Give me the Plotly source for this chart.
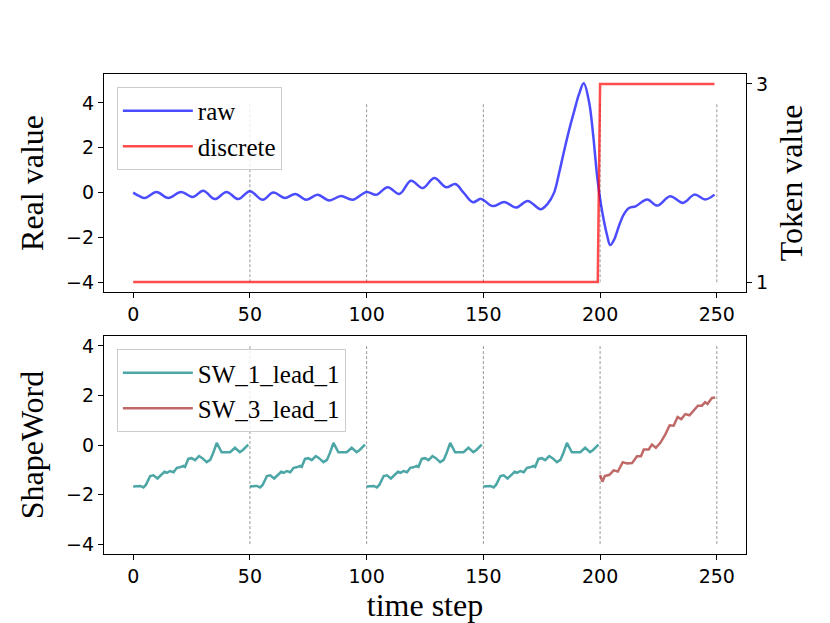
import plotly.graph_objects as go

# raw signal (peaks / troughs)
raw_x = [0, 2.5, 5, 10, 15, 20.5, 25.5, 30, 35, 40, 45, 50, 55.5, 60, 65, 69.5,
         74, 79, 84, 89, 94, 100, 104, 109, 114, 119, 124, 129, 134, 138, 141.5,
         145.5, 149, 154, 159, 164, 169, 174.5, 177.5, 180.3, 182.5, 184.6, 187,
         189, 191, 193, 195.3, 197, 198.9, 201, 203, 204.3, 206, 208, 210, 212.4,
         215.2, 220.2, 224.5, 230, 235.5, 240.5, 245, 249]
raw_y = [0.0, -0.15, -0.24, 0.03, -0.24, 0.03, -0.2, 0.08, -0.29, 0.03, -0.29,
         0.06, -0.32, 0.0, -0.24, -0.06, -0.32, -0.1, -0.35, -0.15, -0.32, 0.03,
         -0.1, 0.24, -0.06, 0.53, 0.2, 0.65, 0.24, 0.38, 0.0, -0.43, -0.28, -0.6,
         -0.42, -0.67, -0.37, -0.74, -0.5, 0.0, 0.9, 1.87, 2.9, 3.67, 4.4, 4.88,
         4.03, 2.6, 0.58, -0.91, -1.9, -2.34, -2.1, -1.51, -1.0, -0.69, -0.61,
         -0.31, -0.58, -0.16, -0.46, -0.09, -0.31, -0.09]

# discrete token
disc_x = [0, 199, 200, 249]
disc_y = [1, 1, 3, 3]

# ShapeWord SW_1_lead_1 (one window, repeated at each start)
sw1_dx = [0, 2, 3, 4.4, 5.5, 7.3, 8.7, 10.4, 12.3, 13.4, 14.5, 15.8, 17.3, 18.7,
          20, 21.5, 22.2, 23.6, 25, 26.5, 28.2, 29.5, 31.5, 33, 34.3, 35.8, 37.9,
          40, 41.5, 43.6, 45.7, 47, 49.3]
sw1_y = [-1.67, -1.67, -1.65, -1.71, -1.6, -1.25, -1.22, -1.35, -1.16, -1.08,
         -1.12, -1.05, -1.1, -0.92, -0.9, -0.84, -0.88, -0.56, -0.53, -0.61,
         -0.45, -0.52, -0.69, -0.6, -0.31, 0.09, -0.29, -0.28, -0.29, -0.11,
         -0.29, -0.2, 0.02]
sw1_starts = [0, 50, 100, 150]

# ShapeWord SW_3_lead_1
sw3_x = [200, 201, 202, 204, 205.8, 207.6, 209.7, 211.5, 213.7, 215.8, 217.5,
         218.7, 220.8, 222.2, 223.9, 225.8, 227.9, 229.8, 231.5, 233.2, 234.8,
         236.5, 238.3, 240, 241.9, 243.6, 245, 246, 247.9, 249.3]
sw3_y = [-1.21, -1.48, -1.25, -1.2, -1.02, -1.07, -0.69, -0.74, -0.73, -0.45,
         -0.45, -0.18, -0.18, 0.02, -0.11, 0.09, 0.42, 0.8, 0.78, 1.13, 1.05,
         1.25, 1.2, 1.39, 1.59, 1.59, 1.73, 1.66, 1.9, 1.92]

vline_x = [50, 100, 150, 200, 250]
vline_lo, vline_hi = -4, 4

SERIF = "Liberation Serif"
SANS = "DejaVu Sans"

fig = go.Figure()

# dashed window separators
for xa, ya in [("x", "y"), ("x2", "y3")]:
    vx, vy = [], []
    for v in vline_x:
        vx += [v, v, None]
        vy += [vline_lo, vline_hi, None]
    fig.add_trace(go.Scatter(x=vx, y=vy, mode="lines", xaxis=xa, yaxis=ya,
                             showlegend=False, hoverinfo="skip",
                             line=dict(color="#999999", width=1, dash="3px,2px")))

fig.add_trace(go.Scatter(x=raw_x, y=raw_y, mode="lines", name="raw",
                         line=dict(color="rgba(0,0,255,0.7)", width=2.5,
                                   shape="spline", smoothing=1.0),
                         xaxis="x", yaxis="y", legend="legend"))
fig.add_trace(go.Scatter(x=disc_x, y=disc_y, mode="lines", name="discrete",
                         line=dict(color="rgba(255,0,0,0.7)", width=2.5),
                         xaxis="x", yaxis="y2", legend="legend"))

sx, sy = [], []
for s in sw1_starts:
    sx += [s + d for d in sw1_dx] + [None]
    sy += sw1_y + [None]
fig.add_trace(go.Scatter(x=sx, y=sy, mode="lines", name="SW_1_lead_1",
                         line=dict(color="rgba(0,128,128,0.7)", width=2.5),
                         xaxis="x2", yaxis="y3", legend="legend2"))
fig.add_trace(go.Scatter(x=sw3_x, y=sw3_y, mode="lines", name="SW_3_lead_1",
                         line=dict(color="rgba(165,42,42,0.7)", width=2.5),
                         xaxis="x2", yaxis="y3", legend="legend2"))

ax = dict(showline=True, linecolor="black", linewidth=1.2, mirror=True,
          ticks="outside", ticklen=5, tickcolor="black", showgrid=False,
          zeroline=False, automargin=False,
          tickfont=dict(family=SANS, size=19, color="black"))
xr = [-12.5, 262.5]
xt = [0, 50, 100, 150, 200, 250]
tfont = dict(family=SERIF, size=32, color="black")
minus = ["\u22124", "\u22122", "0", "2", "4"]
leg = dict(x=0.02, xanchor="left", yanchor="top", itemwidth=70, traceorder="normal",
           bgcolor="rgba(255,255,255,0.8)", bordercolor="#cccccc", borderwidth=1,
           font=dict(family=SERIF, size=25, color="black"))

# page body has an 8px margin, so the figure is drawn 8px smaller
fig.update_layout(
    width=822, height=615,
    margin=dict(l=96, r=84, t=66, b=69),
    plot_bgcolor="white", paper_bgcolor="white",
    xaxis=dict(ax, domain=[0, 1], range=xr, tickvals=xt, anchor="y"),
    yaxis=dict(ax, domain=[0.546, 1], range=[-4.43, 5.29], tickvals=[-4, -2, 0, 2, 4],
               ticktext=minus, anchor="x",
               title=dict(text="Real value", font=tfont, standoff=12)),
    yaxis2=dict(ax, overlaying="y", side="right", range=[0.9, 3.1], tickvals=[1, 3],
                anchor="x", mirror=False,
                title=dict(text="Token value", font=tfont, standoff=12)),
    xaxis2=dict(ax, domain=[0, 1], range=xr, tickvals=xt, anchor="y3",
                title=dict(text="time step", font=tfont, standoff=2)),
    yaxis3=dict(ax, domain=[0, 0.454], range=[-4.4, 4.4], tickvals=[-4, -2, 0, 2, 4],
                ticktext=minus, anchor="x2",
                title=dict(text="ShapeWord", font=tfont, standoff=12)),
    legend=dict(leg, y=0.973),
    legend2=dict(leg, y=0.427),
)

fig.write_html("out.html")
